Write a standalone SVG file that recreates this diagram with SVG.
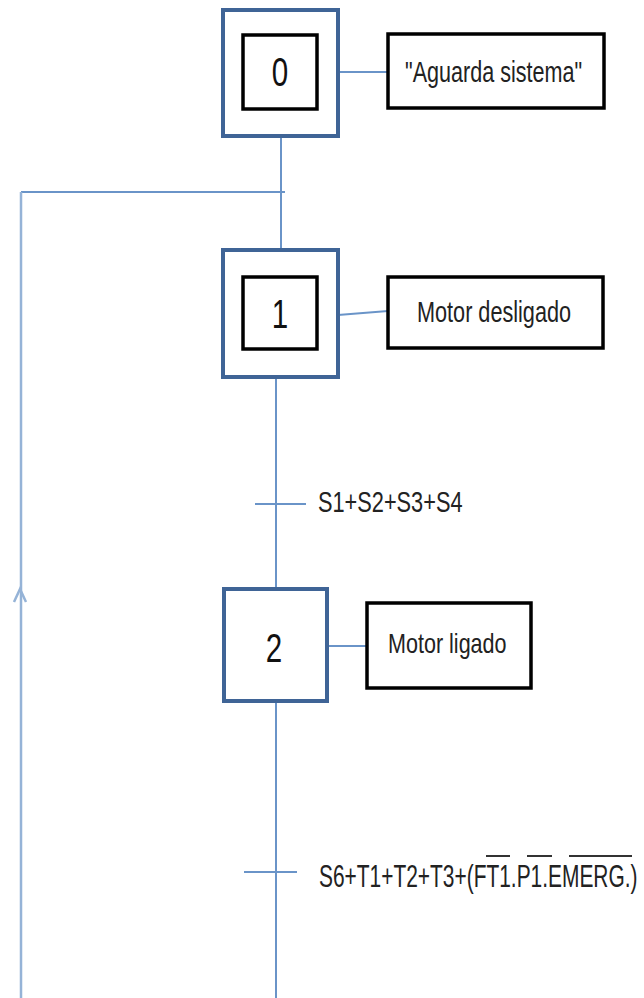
<svg xmlns="http://www.w3.org/2000/svg" width="644" height="998" viewBox="0 0 644 998">
<style>
.step{fill:#fff;stroke:#3f6496;stroke-width:4}
.inner{fill:#fff;stroke:#000;stroke-width:3.5}
.act{fill:#fff;stroke:#000;stroke-width:3.5}
.conn{fill:none;stroke:#6a94c8;stroke-width:2}
.back{fill:none;stroke:#95b3d7;stroke-width:2.5}
.num{font-family:"Liberation Sans",Arial,sans-serif;font-size:40px;fill:#111;text-anchor:middle}
.lbl{font-family:"Liberation Sans",Arial,sans-serif;font-size:29px;fill:#222}
.ovl{stroke:#333;stroke-width:2}
</style>
<rect width="644" height="998" fill="#fff"/>
<g id="connectors">
<line class="conn" x1="281" y1="136" x2="281" y2="250"/>
<line class="conn" x1="21" y1="192" x2="285" y2="192"/>
<line class="back" x1="21" y1="998" x2="21" y2="192"/>
<polyline class="back" points="14,602 20,589 26,602"/>
<line class="conn" x1="276" y1="377" x2="276" y2="589"/>
<line class="conn" x1="255" y1="504" x2="306" y2="504" stroke-width="2.5"/>
<line class="conn" x1="276" y1="701" x2="276" y2="998"/>
<line class="conn" x1="244" y1="872" x2="297" y2="872" stroke-width="2.5"/>
<line class="conn" x1="338" y1="72" x2="388" y2="72"/>
<line class="conn" x1="338" y1="315" x2="388" y2="311"/>
<line class="conn" x1="327" y1="646" x2="367" y2="646" stroke-width="3"/>
</g>
<g id="step0">
<rect class="step" x="223" y="10" width="115" height="126"/>
<rect class="inner" x="243" y="35" width="74" height="74"/>
<text class="num" transform="translate(280,86) scale(0.74,1)">0</text>
</g>
<g id="action0">
<rect class="act" x="388" y="34" width="216" height="74"/>
<text class="lbl" transform="translate(405,82) scale(0.744,1)">"Aguarda sistema"</text>
</g>
<g id="step1">
<rect class="step" x="223" y="250" width="115" height="127"/>
<rect class="inner" x="243" y="277" width="74" height="72"/>
<text class="num" transform="translate(280,328) scale(0.74,1)">1</text>
</g>
<g id="action1">
<rect class="act" x="388" y="277" width="215" height="71"/>
<text class="lbl" transform="translate(417,322) scale(0.747,1)">Motor desligado</text>
</g>
<g id="transition1">
<text class="lbl" transform="translate(318,512) scale(0.75,1)">S1+S2+S3+S4</text>
</g>
<g id="step2">
<rect class="step" x="224" y="589" width="103" height="112"/>
<text class="num" transform="translate(274,662) scale(0.74,1)">2</text>
</g>
<g id="action2">
<rect class="act" x="367" y="603" width="164" height="85"/>
<text class="lbl" transform="translate(388,653) scale(0.77,1)" style="font-size:28px">Motor ligado</text>
</g>
<g id="transition2">
<text class="lbl" transform="translate(319,887) scale(0.675,1)" style="font-size:31px">S6+T1+T2+T3+(FT1.P1.EMERG.)</text>
<line class="ovl" x1="486" y1="856" x2="510" y2="856"/>
<line class="ovl" x1="527" y1="856" x2="552" y2="856"/>
<line class="ovl" x1="569" y1="856" x2="632" y2="856"/>
</g>
</svg>
